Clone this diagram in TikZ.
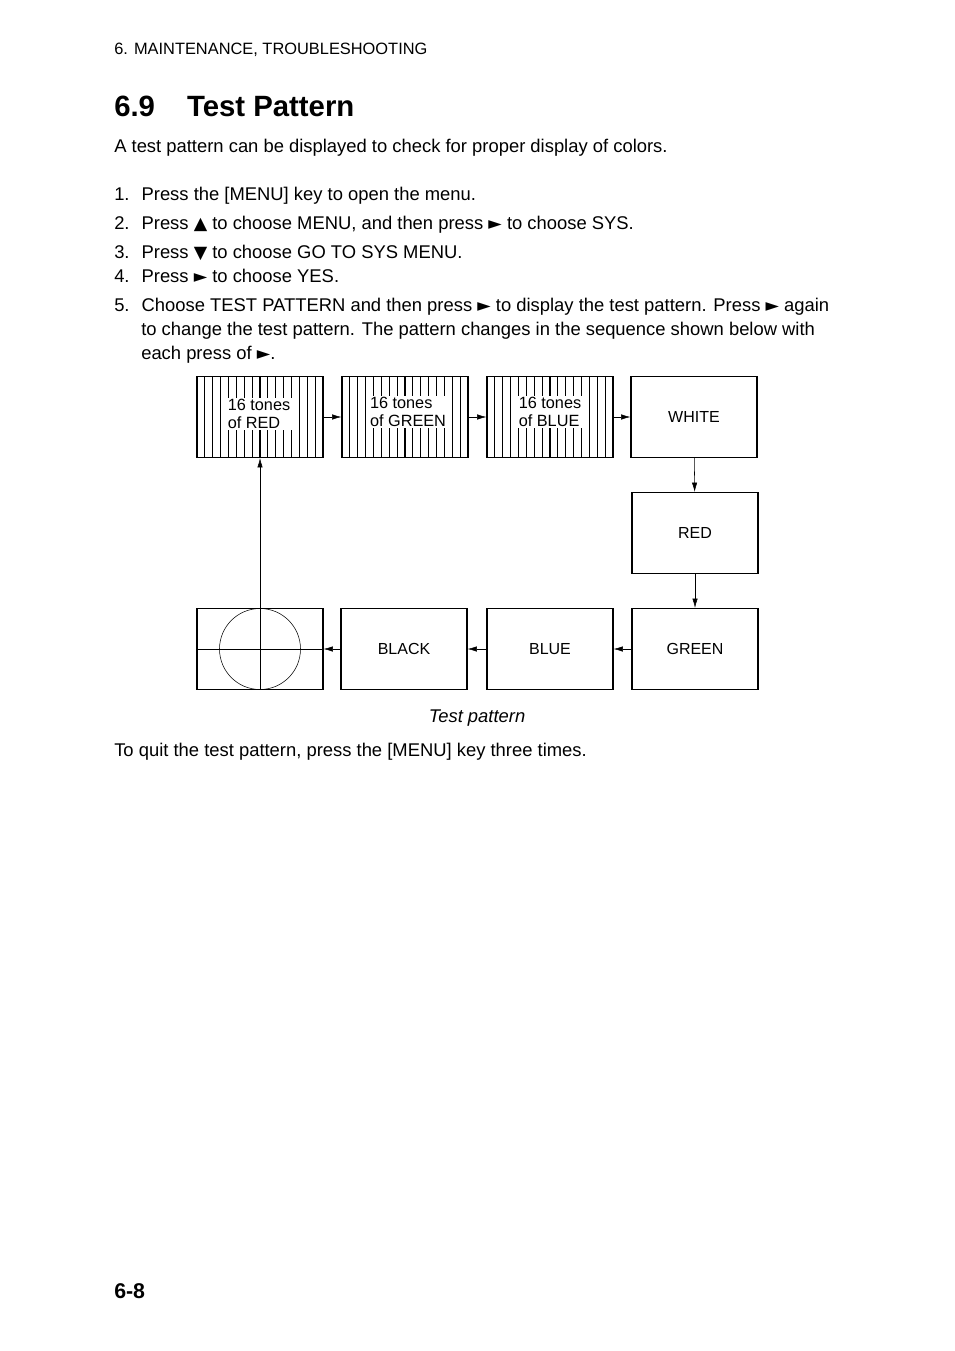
\documentclass[tikz,border=0pt]{standalone}
\usepackage{fontspec}
\setmainfont{Liberation Sans}
\newfontfamily\symfont[Scale=0.95]{DejaVu Sans}
\usetikzlibrary{arrows.meta}
\newcommand{\rt}{{\symfont ►}}
\newcommand{\up}{{\symfont ▲}}
\newcommand{\dn}{{\symfont ▼}}
\tikzset{
  txt/.style={anchor=base west, inner sep=0pt, font=\fontsize{13.8}{16}\selectfont},
  pat/.style={draw, thick, minimum width=94.5pt, minimum height=60.8pt, inner sep=0pt, font=\fontsize{12}{14}\selectfont},
  lab/.style={fill=white, inner sep=1pt, align=left, font=\fontsize{12.2}{14}\selectfont},
  flow/.style={-{Latex[length=7pt,width=4pt]}, thin}
}
\begin{document}
\begin{tikzpicture}[x=0.75pt,y=-0.75pt]
\useasboundingbox (0,0) rectangle (954,1351);
\fill[white] (0,0) rectangle (954,1351);
% page text
\node[txt, font=\fontsize{12.3}{14}\selectfont] (hdr) at (114,55) {6. MAINTENANCE, TROUBLESHOOTING};
\node[txt, font=\bfseries\fontsize{22}{26}\selectfont] (ttl) at (114,117) {6.9\hspace{24pt}Test Pattern};
\node[txt] (intro) at (114,153) {A test pattern can be displayed to check for proper display of colors.};
\node[txt] (s1) at (114,201) {1.\hspace{9pt}Press the [MENU] key to open the menu.};
\node[txt] (s2) at (114,230) {2.\hspace{9pt}Press \up{} to choose MENU, and then press \rt{} to choose SYS.};
\node[txt] (s3) at (114,259) {3.\hspace{9pt}Press \dn{} to choose GO TO SYS MENU.};
\node[txt] (s4) at (114,283) {4.\hspace{9pt}Press \rt{} to choose YES.};
\node[txt] (s5) at (114,312) {5.\hspace{9pt}Choose TEST PATTERN and then press \rt{} to display the test pattern. Press \rt{} again};
\node[txt] (s5b) at (141,336) {to change the test pattern. The pattern changes in the sequence shown below with};
\node[txt] (s5c) at (141,360) {each press of \rt.};
\node[txt, font=\itshape\fontsize{13.8}{16}\selectfont, anchor=base] (cap) at (477,722) {Test pattern};
\node[txt] (quit) at (114,756) {To quit the test pattern, press the [MENU] key three times.};
\node[txt, font=\bfseries\fontsize{16}{18}\selectfont] (pg) at (114,1298) {6-8};
% patterns
\foreach \nm/\cx in {tr/260, tg/405, tb/550}{
  \node[pat] (\nm) at (\cx,417) {};
  \foreach \i in {1,...,15}{
    \pgfmathsetmacro{\lw}{mod(\i,4)==0 ? 1.4 : 0.6}
    \draw[line width=\lw pt] (\cx-63+\i*7.875,377) -- (\cx-63+\i*7.875,457);
  }
}
\node[lab] at (259,414) {16 tones\\of RED};
\node[lab] at (408,412) {16 tones\\of GREEN};
\node[lab] at (550,412) {16 tones\\of BLUE};
\node[pat] (wht) at (694,417) {WHITE};
\node[pat] (red) at (695,533) {RED};
\node[pat] (grn) at (695,649) {GREEN};
\node[pat] (blu) at (550,649) {BLUE};
\node[pat] (blk) at (404,649) {BLACK};
\node[pat] (crs) at (260,649) {};
\draw (crs.center) circle (40.5);
\draw (crs.west) -- (crs.east);
\draw (crs.north) -- (crs.south);
% connectors
\draw[flow] (tr) -- (tg);
\draw[flow] (tg) -- (tb);
\draw[flow] (tb) -- (wht);
\draw[flow] (wht) -- (red);
\draw[flow] (red) -- (grn);
\draw[flow] (grn) -- (blu);
\draw[flow] (blu) -- (blk);
\draw[flow] (blk) -- (crs);
\draw[flow] (crs.north) -- (tr.south);
\end{tikzpicture}
\end{document}
